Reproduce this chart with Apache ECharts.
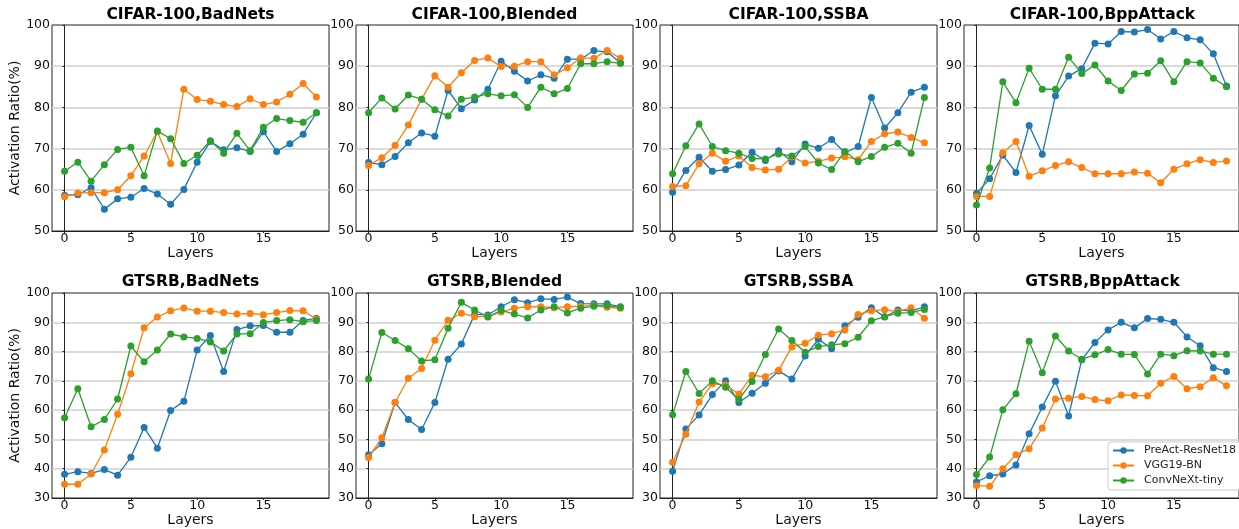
<!DOCTYPE html>
<html>
<head>
<meta charset="utf-8">
<script src="https://cdn.jsdelivr.net/npm/echarts@6/dist/echarts.min.js"></script>
<style>
  html, body { margin: 0; padding: 0; background: #fff; }
  #chart { width: 1239px; height: 529px; }
</style>
</head>
<body>
<div id="chart"></div>
<script>
// layer index on the x axis
const layers = [0, 1, 2, 3, 4, 5, 6, 7, 8, 9, 10, 11, 12, 13, 14, 15, 16, 17, 18, 19];
const xTicks = [0, 5, 10, 15];
const modelNames = ['PreAct-ResNet18', 'VGG19-BN', 'ConvNeXt-tiny'];

// CIFAR-100, BadNets
const c100BadNetsResNet = [58.7, 58.8, 60.5, 55.3, 57.8, 58.2, 60.3, 59.0, 56.5, 60.1, 66.7, 71.7, 69.7, 70.2, 69.3, 74.1, 69.3, 71.2, 73.5, 78.7];
const c100BadNetsVgg = [58.3, 59.2, 59.3, 59.3, 60.0, 63.4, 68.2, 74.1, 66.4, 84.4, 81.9, 81.5, 80.7, 80.2, 82.1, 80.7, 81.3, 83.2, 85.8, 82.5];
const c100BadNetsConvNext = [64.5, 66.7, 62.1, 66.1, 69.8, 70.3, 63.4, 74.3, 72.4, 66.4, 68.4, 71.9, 68.9, 73.7, 69.5, 75.2, 77.3, 76.8, 76.4, 78.7];

// CIFAR-100, Blended
const c100BlendedResNet = [66.6, 66.1, 68.1, 71.4, 73.8, 73.0, 84.1, 79.7, 81.8, 84.4, 91.2, 88.8, 86.4, 87.9, 87.1, 91.7, 91.7, 93.8, 93.5, 90.8];
const c100BlendedVgg = [65.9, 67.8, 70.8, 75.7, 82.0, 87.7, 84.9, 88.4, 91.4, 92.0, 89.9, 90.0, 91.1, 91.1, 87.9, 89.6, 92.0, 91.9, 93.8, 91.9];
const c100BlendedConvNext = [78.7, 82.3, 79.6, 83.0, 82.0, 79.4, 77.9, 82.0, 82.5, 83.3, 82.8, 83.1, 80.0, 84.9, 83.3, 84.6, 90.6, 90.6, 91.1, 90.7];

// CIFAR-100, SSBA
const c100SsbaResNet = [59.4, 64.7, 67.9, 64.5, 64.9, 66.0, 69.1, 67.1, 69.5, 66.8, 71.1, 70.1, 72.2, 69.0, 70.5, 82.4, 75.0, 78.7, 83.7, 84.9];
const c100SsbaVgg = [60.8, 61.0, 66.3, 68.9, 66.9, 68.2, 65.4, 64.8, 65.0, 68.0, 66.5, 66.9, 67.7, 68.0, 67.3, 71.7, 73.6, 74.0, 72.7, 71.4];
const c100SsbaConvNext = [63.9, 70.7, 76.0, 70.5, 69.5, 68.9, 67.6, 67.5, 68.7, 68.2, 70.5, 66.5, 64.9, 69.3, 66.8, 68.1, 70.3, 71.3, 68.9, 82.4];

// CIFAR-100, BppAttack
const c100BppResNet = [59.1, 62.7, 68.4, 64.2, 75.6, 68.6, 82.8, 87.6, 89.4, 95.6, 95.4, 98.4, 98.3, 98.9, 96.6, 98.4, 96.9, 96.4, 93.0, 85.2];
const c100BppVgg = [58.4, 58.4, 69.0, 71.7, 63.3, 64.6, 65.9, 66.8, 65.4, 63.9, 63.9, 63.9, 64.3, 64.0, 61.7, 65.0, 66.3, 67.3, 66.6, 67.0];
const c100BppConvNext = [56.3, 65.3, 86.2, 81.1, 89.5, 84.4, 84.4, 92.2, 88.2, 90.3, 86.4, 84.1, 88.1, 88.3, 91.3, 86.2, 91.1, 90.8, 87.1, 85.0];

// GTSRB, BadNets
const gtsrbBadNetsResNet = [38.1, 39.0, 38.4, 39.7, 37.8, 43.9, 54.1, 47.0, 59.9, 63.0, 80.5, 85.5, 73.2, 87.5, 88.8, 88.9, 86.6, 86.6, 90.6, 91.4];
const gtsrbBadNetsVgg = [34.7, 34.7, 38.2, 46.4, 58.6, 72.4, 88.1, 91.8, 93.9, 94.9, 93.8, 93.8, 93.3, 92.8, 93.0, 92.6, 93.3, 94.0, 93.9, 91.1];
const gtsrbBadNetsConvNext = [57.4, 67.3, 54.3, 56.8, 63.8, 81.9, 76.5, 80.5, 86.0, 85.0, 84.5, 83.3, 80.2, 86.0, 86.1, 89.9, 90.6, 90.9, 90.2, 90.6];

// GTSRB, Blended
const gtsrbBlendedResNet = [44.8, 48.5, 62.6, 56.8, 53.4, 62.6, 77.4, 82.6, 92.7, 92.5, 95.3, 97.7, 96.7, 98.0, 97.8, 98.6, 96.4, 96.3, 96.3, 95.3];
const gtsrbBlendedVgg = [43.8, 50.6, 62.6, 70.9, 74.2, 83.9, 90.7, 93.1, 91.9, 91.9, 93.5, 94.8, 95.3, 95.3, 95.0, 95.3, 95.5, 95.7, 95.1, 94.8];
const gtsrbBlendedConvNext = [70.6, 86.5, 83.8, 81.0, 76.8, 77.2, 88.0, 96.8, 94.2, 91.8, 94.1, 92.8, 91.5, 94.2, 95.3, 93.2, 94.8, 95.5, 95.7, 95.1];

// GTSRB, SSBA
const gtsrbSsbaResNet = [39.1, 53.6, 58.3, 65.3, 70.0, 62.6, 65.8, 69.2, 73.4, 70.6, 78.5, 84.2, 81.0, 88.8, 91.7, 95.0, 91.8, 94.2, 93.9, 95.3];
const gtsrbSsbaVgg = [42.2, 51.8, 62.8, 69.0, 68.6, 65.5, 71.9, 71.4, 73.6, 81.6, 82.8, 85.6, 86.1, 87.4, 92.7, 93.9, 94.3, 93.6, 95.0, 91.4];
const gtsrbSsbaConvNext = [58.4, 73.2, 65.7, 70.0, 67.8, 63.6, 69.8, 79.0, 87.7, 83.8, 79.8, 81.7, 82.3, 82.7, 84.9, 90.5, 91.9, 93.1, 93.3, 94.4];

// GTSRB, BppAttack
const gtsrbBppResNet = [35.5, 37.6, 38.2, 41.3, 51.9, 61.1, 69.9, 58.0, 77.2, 83.1, 87.4, 90.0, 88.1, 91.3, 91.0, 90.0, 85.0, 82.0, 74.5, 73.2];
const gtsrbBppVgg = [34.3, 34.0, 40.0, 44.8, 46.8, 53.9, 63.8, 64.1, 64.7, 63.6, 63.2, 65.2, 65.0, 64.9, 69.2, 71.5, 67.3, 68.0, 71.1, 68.3];
const gtsrbBppConvNext = [38.0, 44.0, 60.1, 65.6, 83.5, 72.8, 85.3, 80.2, 77.4, 78.9, 80.7, 79.1, 79.0, 72.3, 79.1, 78.6, 80.3, 80.2, 79.1, 79.1];

const panelTitles = [
  'CIFAR-100,BadNets', 'CIFAR-100,Blended', 'CIFAR-100,SSBA', 'CIFAR-100,BppAttack',
  'GTSRB,BadNets', 'GTSRB,Blended', 'GTSRB,SSBA', 'GTSRB,BppAttack'
];
const panelSeries = [
  [c100BadNetsResNet, c100BadNetsVgg, c100BadNetsConvNext],
  [c100BlendedResNet, c100BlendedVgg, c100BlendedConvNext],
  [c100SsbaResNet, c100SsbaVgg, c100SsbaConvNext],
  [c100BppResNet, c100BppVgg, c100BppConvNext],
  [gtsrbBadNetsResNet, gtsrbBadNetsVgg, gtsrbBadNetsConvNext],
  [gtsrbBlendedResNet, gtsrbBlendedVgg, gtsrbBlendedConvNext],
  [gtsrbSsbaResNet, gtsrbSsbaVgg, gtsrbSsbaConvNext],
  [gtsrbBppResNet, gtsrbBppVgg, gtsrbBppConvNext]
];
const yMins = [50, 50, 50, 50, 30, 30, 30, 30];

const colors = ['#1f77b4', '#ff7f0e', '#2ca02c'];
const font = 'DejaVu Sans';

const chart = echarts.init(document.getElementById('chart'));

// layout of the 2 x 4 panels (pixels)
const lefts = [52, 356, 660, 964];
const tops = [25, 293];
const plotW = 277;
const plotH = [206, 205];

const grids = [], xAxes = [], yAxes = [], titles = [], series = [];

panelTitles.forEach((t, i) => {
  const row = Math.floor(i / 4), col = i % 4;
  grids.push({
    left: lefts[col], top: tops[row], width: plotW, height: plotH[row],
    show: true, borderColor: '#222', borderWidth: 1, backgroundColor: 'transparent'
  });
  titles.push({
    text: t,
    left: lefts[col] + plotW / 2,
    top: row === 0 ? 7 : 274,
    textAlign: 'center',
    padding: 0,
    textStyle: { fontFamily: font, fontWeight: 'bold', fontSize: 15.5, color: '#000' }
  });
  xAxes.push({
    gridIndex: i,
    type: 'value',
    min: -0.95,
    max: 19.95,
    name: 'Layers',
    nameLocation: 'middle',
    nameGap: row === 0 ? 13 : 12,
    nameTextStyle: { fontFamily: font, fontSize: 14, color: '#111' },
    axisLine: { show: true, onZero: false, lineStyle: { color: '#222', width: 1 } },
    axisTick: { show: true, customValues: xTicks, length: 2, lineStyle: { color: '#222' } },
    axisLabel: { customValues: xTicks, margin: 1, fontFamily: font, fontSize: 12.5, color: '#111' },
    splitLine: { show: false }
  });
  yAxes.push({
    gridIndex: i,
    type: 'value',
    min: yMins[i],
    max: 100,
    interval: 10,
    name: col === 0 ? 'Activation Ratio(%)' : '',
    nameLocation: 'middle',
    nameRotate: 90,
    nameGap: 27,
    nameTextStyle: { fontFamily: font, fontSize: 14, color: '#111' },
    axisLine: { show: true, lineStyle: { color: '#222', width: 1 } },
    axisTick: { show: true, length: 2, lineStyle: { color: '#222' } },
    axisLabel: { margin: 2, fontFamily: font, fontSize: 12.5, color: '#111' },
    splitLine: { show: true, showMinLine: false, showMaxLine: false, lineStyle: { color: '#cfcfcf', width: 1.5 } }
  });
  panelSeries[i].forEach((vals, k) => {
    series.push({
      name: modelNames[k],
      type: 'line',
      xAxisIndex: i,
      yAxisIndex: i,
      data: layers.map((x, j) => [x, vals[j]]),
      symbol: 'circle',
      symbolSize: 7,
      showSymbol: true,
      color: colors[k],
      lineStyle: { width: 1.3, color: colors[k] },
      itemStyle: { color: colors[k] },
      z: 2 + k
    });
  });
});

chart.setOption({
  animation: false,
  backgroundColor: '#fff',
  title: titles,
  grid: grids,
  xAxis: xAxes,
  yAxis: yAxes,
  legend: {
    data: modelNames,
    orient: 'vertical',
    left: 1108,
    top: 442,
    width: 130,
    padding: [3, 6, 4, 4],
    itemGap: 4,
    itemWidth: 21,
    itemHeight: 8,
    backgroundColor: '#fff',
    borderColor: '#cccccc',
    borderWidth: 1,
    borderRadius: 3,
    textStyle: { fontFamily: font, fontSize: 11, color: '#222', padding: [0, 0, 0, 5] }
  },
  series: series
});
</script>
</body>
</html>
